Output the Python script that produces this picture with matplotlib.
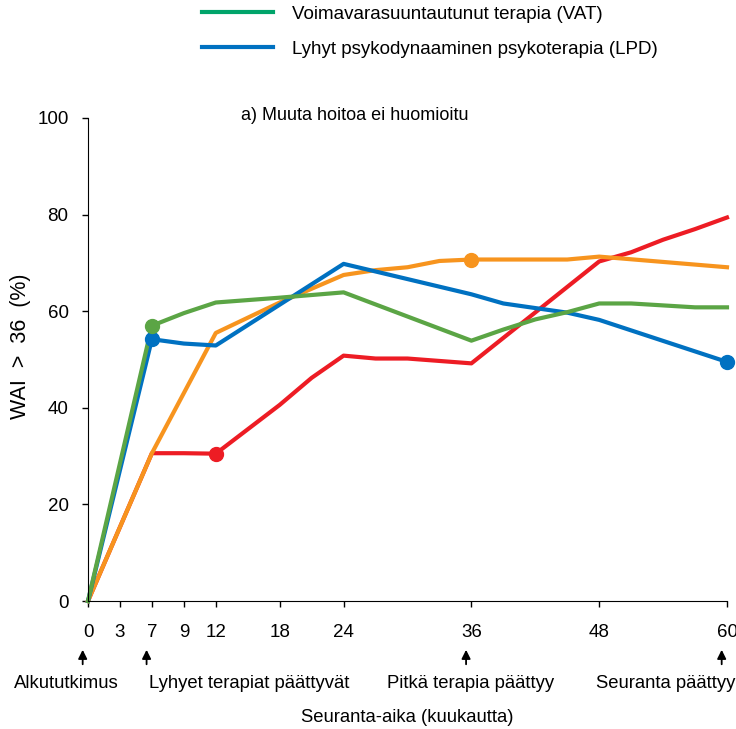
import matplotlib
matplotlib.use('Agg')
import matplotlib.pyplot as plt
from matplotlib.lines import Line2D

plt.rcParams['font.family'] = ['Liberation Sans', 'DejaVu Sans']

# x positions on the axis (the "7" month visit sits on the 6 position of the axis)
tick_pos = [0, 3, 6, 9, 12, 18, 24, 36, 48, 60]
tick_labels = ['0', '3', '7', '9', '12', '18', '24', '36', '48', '60']

vat_x = [0, 6, 9, 12, 18, 24, 36, 39, 42, 45, 48, 51, 54, 57, 60]
vat_y = [0, 57.0, 59.6, 61.8, 62.8, 63.9, 53.9, 56.2, 58.3, 59.8, 61.6, 61.6, 61.2, 60.8, 60.8]

lpd_x = [0, 6, 9, 12, 24, 36, 39, 45, 48, 60]
lpd_y = [0, 54.2, 53.3, 52.9, 69.8, 63.5, 61.6, 59.7, 58.2, 49.5]

orange_x = [0, 6, 12, 18, 24, 27, 30, 33, 36, 45, 48, 60]
orange_y = [0, 30.6, 55.5, 61.8, 67.5, 68.5, 69.1, 70.4, 70.7, 70.7, 71.3, 69.1]

red_x = [0, 6, 9, 12, 18, 21, 24, 27, 30, 36, 48, 51, 54, 57, 60]
red_y = [0, 30.6, 30.6, 30.5, 40.6, 46.2, 50.8, 50.2, 50.2, 49.2, 70.3, 72.2, 74.8, 77.0, 79.4]

events = ['Alkututkimus', 'Lyhyet terapiat päättyvät', 'Pitkä terapia päättyy', 'Seuranta päättyy']
event_x = [-2.0, 15.1, 35.9, 54.2]
arrow_x = [0, 6, 36, 60]

green = '#5BA545'
blue = '#0071C1'
orange = '#F7941E'
red = '#ED1C24'
legend_green = '#00A46A'

fig = plt.figure(figsize=(7.36, 7.29), dpi=100)
ax = fig.add_axes([88 / 736, 128 / 729, 639 / 736, 483 / 729])

lw = 3
ax.plot(red_x, red_y, color=red, lw=lw, clip_on=False)
ax.plot(orange_x, orange_y, color=orange, lw=lw, clip_on=False)
ax.plot(lpd_x, lpd_y, color=blue, lw=lw, clip_on=False)
ax.plot(vat_x, vat_y, color=green, lw=lw, clip_on=False)

# highlighted points
ms = 10
ax.plot(red_x[3], red_y[3], 'o', color=red, ms=ms, clip_on=False)
ax.plot(orange_x[8], orange_y[8], 'o', color=orange, ms=ms, clip_on=False)
ax.plot(lpd_x[1], lpd_y[1], 'o', color=blue, ms=ms, clip_on=False)
ax.plot(lpd_x[-1], lpd_y[-1], 'o', color=blue, ms=ms, clip_on=False)
ax.plot(vat_x[1], vat_y[1], 'o', color=green, ms=ms, clip_on=False)

ax.set_xlim(0, 60)
ax.set_ylim(0, 100)
ax.set_xticks(tick_pos)
ax.set_xticklabels(tick_labels)
ax.set_yticks([0, 20, 40, 60, 80, 100])
ax.tick_params(labelsize=13.5, length=4, width=1)
ax.tick_params(axis='x', pad=12.5)
ax.tick_params(axis='y', pad=10)
for s in ['top', 'right']:
    ax.spines[s].set_visible(False)

ax.text(-0.1056, 0.527, 'WAI  >  36  (%)', transform=ax.transAxes, rotation=90,
        ha='center', va='center', fontsize=15.5)
ax.text(0.5, -0.242, 'Seuranta-aika (kuukautta)', transform=ax.transAxes,
        ha='center', va='center', fontsize=13.3)
ax.text(0.418, 1.005, 'a) Muuta hoitoa ei huomioitu', transform=ax.transAxes,
        ha='center', va='center', fontsize=13)

# arrows and event labels under the axis
trans = ax.get_xaxis_transform()
for xa in arrow_x:
    ax.annotate('', xy=(xa - 0.5, -0.101), xytext=(xa - 0.5, -0.131),
                xycoords=trans, textcoords=trans,
                arrowprops=dict(arrowstyle='-|>', color='black', lw=1.3,
                                mutation_scale=13, shrinkA=0, shrinkB=0))
for t, xe in zip(events, event_x):
    ax.text(xe, -0.170, t, transform=trans, ha='center', va='center', fontsize=13.3)

handles = [Line2D([], [], color=legend_green, lw=3),
           Line2D([], [], color=blue, lw=3)]
fig.legend(handles, ['Voimavarasuuntautunut terapia (VAT)',
                     'Lyhyt psykodynaaminen psykoterapia (LPD)'],
           loc='upper left', bbox_to_anchor=(196 / 736, 1.0), frameon=False,
           fontsize=13.5, handlelength=3.8, handletextpad=1.0, labelspacing=0.95,
           borderpad=0.3, borderaxespad=0)

fig.savefig('out.png', dpi=100)
